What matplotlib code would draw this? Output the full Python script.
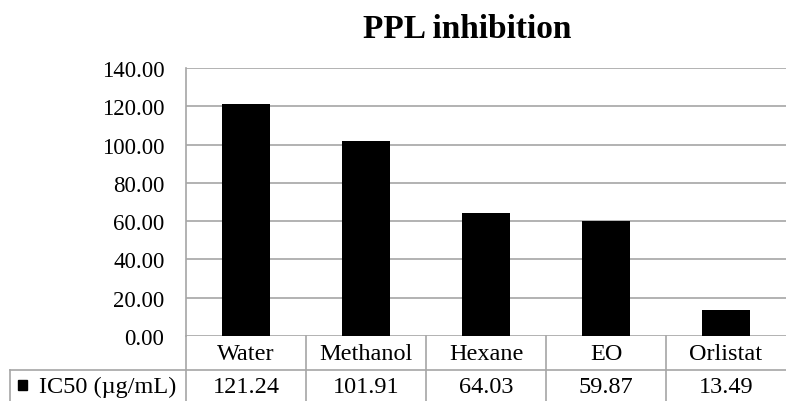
import matplotlib
matplotlib.use("Agg")
import matplotlib.pyplot as plt
from matplotlib.lines import Line2D
from matplotlib.patches import Rectangle

categories = ["Water", "Methanol", "Hexane", "EO", "Orlistat"]
ic50 = [121.24, 101.91, 64.03, 59.87, 13.49]
value_labels = ["121.24", "101.91", "64.03", "59.87", "13.49"]
series_name = "IC50 (µg/mL)"
yticks = [0, 20, 40, 60, 80, 100, 120, 140]

plt.rcParams['font.family'] = ['Liberation Serif', 'DejaVu Serif']

W, H = 786, 402
fig = plt.figure(figsize=(W/100, H/100), dpi=100)
x0, x1 = 186, 786
ytop, ybot = 69, 337
ax = fig.add_axes([x0/W, (H-ybot)/H, (x1-x0)/W, (ybot-ytop)/H])

grid_c = "#a6a6a6"
xs = list(range(len(categories)))
ax.bar(xs, ic50, width=0.4, color="black", zorder=3)
ax.set_xlim(-0.5, len(categories)-0.5)
ax.set_ylim(0, 140)
ax.set_yticks(yticks)
ax.set_yticklabels([f"{v:.2f}" for v in yticks], fontsize=16.5)
ax.tick_params(axis='y', length=0, pad=15.5)
ax.set_xticks([])
for y in yticks:
    ax.axhline(y, color=grid_c, lw=1.2, zorder=1)
for s in ["top", "right", "bottom"]:
    ax.spines[s].set_visible(False)
ax.spines["left"].set_color(grid_c)
ax.spines["left"].set_linewidth(1.2)

fig.text(467/W, 1-29/H, "PPL inhibition", ha="center", va="center",
         fontsize=24, fontweight="bold")

def px(x, y):
    return (x/W, 1-y/H)

def line(xa, ya, xb, yb):
    fig.add_artist(Line2D([xa/W, xb/W], [1-ya/H, 1-yb/H], color=grid_c, lw=1.2,
                          transform=fig.transFigure))

row1_bot = 371
cw = (x1-x0)/len(categories)
line(x0, ybot, x0, H)
for i in range(1, len(categories)):
    line(x0+i*cw, ybot, x0+i*cw, H)
line(10, row1_bot, 10, H)
line(10, row1_bot, x1, row1_bot)

for i, (c, v) in enumerate(zip(categories, value_labels)):
    cx = x0 + (i+0.5)*cw
    fig.text(cx/W, 1-355/H, c, ha="center", va="center", fontsize=17.5)
    fig.text(cx/W, 1-388/H, v, ha="center", va="center", fontsize=17.5)

fig.add_artist(Rectangle(px(18, 391), 9/W, 10/H, color="black", transform=fig.transFigure))
fig.text(39/W, 1-387/H, series_name, ha="left", va="center", fontsize=17.5)

fig.savefig("out.png", dpi=100)
